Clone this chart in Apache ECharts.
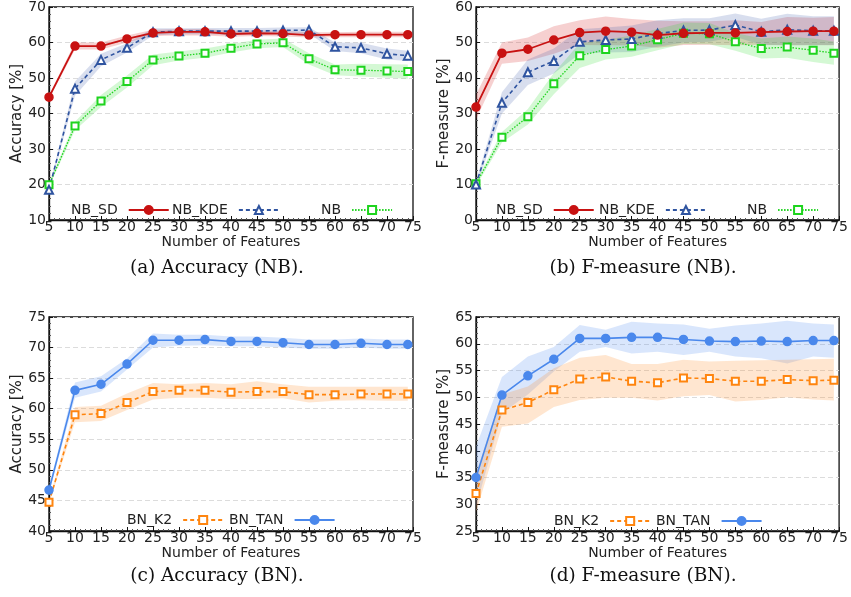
<!DOCTYPE html>
<html>
<head>
<meta charset="utf-8">
<script src="https://cdn.jsdelivr.net/npm/echarts@6/dist/echarts.min.js"></script>
<style>
html,body{margin:0;padding:0;background:#fff;}
#chart{width:851px;height:597px;}
</style>
</head>
<body>
<div id="chart"></div>
<script>
// ---------- data ----------
const features = [5,10,15,20,25,30,35,40,45,50,55,60,65,70,74];

// (a) Accuracy (NB)
const accNbSd    = [44.6,59.0,59.0,61.0,62.7,63.0,63.0,62.4,62.6,62.5,62.1,62.2,62.2,62.2,62.2];
const accNbSdLo  = [44.0,58.0,58.0,60.0,61.8,62.0,62.0,61.6,61.8,61.7,61.4,61.5,61.5,61.5,61.5];
const accNbSdHi  = [45.2,60.0,60.0,62.0,63.6,63.8,63.8,63.3,63.4,63.3,62.9,62.9,63.0,63.0,63.0];
const accNbKde   = [18.5,47.0,55.1,58.5,62.9,63.2,63.2,63.2,63.2,63.4,63.5,58.8,58.5,56.8,56.3];
const accNbKdeLo = [18.0,45.0,53.3,57.2,62.0,62.3,62.3,62.2,62.3,62.5,62.5,57.6,57.0,55.2,54.8];
const accNbKdeHi = [19.0,49.0,56.8,59.8,64.0,64.0,64.1,64.1,64.1,64.2,64.3,60.0,59.9,58.3,57.7];
const accNb      = [19.9,36.5,43.5,49.0,55.1,56.2,57.0,58.4,59.6,59.9,55.4,52.3,52.2,52.0,51.8];
const accNbLo    = [19.3,35.3,41.8,47.3,53.6,54.9,55.7,57.2,58.4,58.7,53.8,50.8,50.4,50.1,49.8];
const accNbHi    = [20.5,37.7,45.2,50.7,56.6,57.5,58.3,59.6,60.8,61.1,57.0,53.8,54.0,53.9,53.8];

// (b) F-measure (NB)
const fNbSd    = [31.8,47.0,48.1,50.7,52.8,53.2,52.9,52.1,52.6,52.7,52.7,52.9,53.1,53.2,53.2];
const fNbSdLo  = [28.3,44.0,44.8,46.8,49.3,49.2,49.2,48.5,49.3,49.4,49.2,49.4,49.2,49.3,49.2];
const fNbSdHi  = [35.3,50.0,51.4,54.6,56.3,57.3,56.6,56.1,56.0,56.0,56.3,55.8,57.2,57.0,57.2];
const fNbKde   = [10.0,33.0,41.6,44.8,50.2,50.7,51.0,52.5,53.4,53.5,54.9,53.0,53.6,53.3,53.3];
const fNbKdeLo = [9.2,30.0,38.0,41.3,46.8,47.2,47.3,48.8,50.0,50.2,51.6,49.3,49.2,49.2,49.3];
const fNbKdeHi = [10.8,36.0,45.2,48.3,53.7,54.2,54.8,56.3,56.8,56.8,58.2,56.7,58.1,57.4,57.4];
const fNb      = [10.2,23.3,29.1,38.4,46.3,48.0,49.0,50.8,52.6,52.5,50.2,48.3,48.7,47.8,47.0];
const fNbLo    = [9.5,21.8,26.9,35.4,42.8,45.2,46.0,47.8,49.6,49.5,47.7,45.5,45.7,44.5,43.7];
const fNbHi    = [10.9,24.8,31.3,41.4,49.8,50.8,52.0,53.8,55.6,55.5,52.7,51.1,51.7,51.1,50.3];

// (c) Accuracy (BN)
const accTan   = [46.7,63.0,64.0,67.3,71.2,71.2,71.3,71.0,71.0,70.8,70.5,70.5,70.7,70.5,70.5];
const accTanLo = [46.2,61.8,62.8,66.4,70.0,70.3,70.4,70.2,70.2,70.0,69.8,69.8,70.0,69.8,69.8];
const accTanHi = [47.2,64.3,65.3,68.2,72.3,72.1,72.1,71.8,71.8,71.6,71.3,71.3,71.5,71.3,71.3];
const accK2    = [44.7,59.0,59.2,61.0,62.8,63.0,63.0,62.7,62.8,62.8,62.3,62.3,62.4,62.4,62.4];
const accK2Lo  = [44.4,57.8,58.0,59.8,61.5,61.8,61.8,61.6,61.6,61.7,61.0,61.3,61.4,61.3,61.3];
const accK2Hi  = [45.0,60.3,60.5,62.5,64.2,64.0,64.2,64.0,64.5,64.0,63.6,63.6,63.6,63.6,63.6];

// (d) F-measure (BN)
const fTan   = [35.0,50.4,54.0,57.1,61.0,61.0,61.2,61.2,60.8,60.5,60.4,60.5,60.4,60.6,60.6];
const fTanLo = [29.5,47.0,50.5,54.8,58.5,59.4,58.2,58.5,57.9,58.5,57.6,57.3,56.3,57.6,57.4];
const fTanHi = [40.8,53.8,57.6,59.4,63.5,62.6,64.1,63.8,63.6,62.8,63.4,63.8,64.3,63.8,63.6];
const fK2    = [32.0,47.6,49.0,51.4,53.4,53.8,53.0,52.7,53.6,53.5,53.0,53.0,53.3,53.1,53.2];
const fK2Lo  = [28.5,44.5,45.1,48.2,49.5,49.9,49.9,49.4,50.2,50.4,49.2,49.5,50.0,49.6,49.4];
const fK2Hi  = [35.8,50.5,52.0,55.4,57.4,57.9,56.2,56.2,57.0,56.7,56.8,56.9,57.0,57.1,57.2];

// axis settings
const yMins = [10, 0, 40, 25];
const yMaxs = [70, 60, 75, 65];
const yIntervals = [10, 10, 5, 5];
const yNames = ['Accuracy [%]', 'F-measure [%]', 'Accuracy [%]', 'F-measure [%]'];
const xName = 'Number of Features';
const captions = ['(a) Accuracy (NB).', '(b) F-measure (NB).', '(c) Accuracy (BN).', '(d) F-measure (BN).'];

// ---------- styles ----------
const FONT = 'DejaVu Sans';
const C_RED = '#c81212', C_DBLUE = '#2f54a0', C_GREEN = '#1ed41e', C_LBLUE = '#4a88ec', C_ORANGE = '#ff850f';
const B_RED = 'rgba(214,40,40,0.22)', B_DBLUE = 'rgba(60,90,170,0.2)', B_GREEN = 'rgba(40,220,40,0.2)',
      B_LBLUE = 'rgba(80,140,240,0.22)', B_ORANGE = 'rgba(255,140,40,0.22)';

const grids = [
  {left: 49, top: 7, width: 364, height: 213},
  {left: 476, top: 7, width: 364, height: 213},
  {left: 49, top: 317, width: 364, height: 214},
  {left: 476, top: 317, width: 364, height: 214}
].map(g => Object.assign({show: true, borderColor: '#111', borderWidth: 1.3, backgroundColor: 'transparent'}, g));

const pairs = (arr) => features.map((x, i) => [x, arr[i]]);

const xAxes = grids.map((g, i) => ({
  type: 'value', gridIndex: i, min: 5, max: 75, interval: 5,
  axisLine: {onZero: false, lineStyle: {color: '#111', width: 1.3}},
  axisTick: {inside: true, length: 4, lineStyle: {color: '#111'}},
  minorTick: {show: true, splitNumber: 5, length: 2, lineStyle: {color: '#555'}},
  axisLabel: {margin: 0, fontSize: 14, color: '#222', fontFamily: FONT},
  splitLine: {show: false},
  name: xName, nameLocation: 'middle', nameGap: 13,
  nameTextStyle: {fontSize: 14, color: '#222', fontFamily: FONT}
}));

const yAxes = grids.map((g, i) => ({
  type: 'value', gridIndex: i, min: yMins[i], max: yMaxs[i], interval: yIntervals[i],
  axisLine: {onZero: false, lineStyle: {color: '#111', width: 1.3}},
  axisTick: {inside: true, length: 4, lineStyle: {color: '#111'}},
  minorTick: {show: true, splitNumber: 5, length: 2, lineStyle: {color: '#555'}},
  axisLabel: {margin: 3, fontSize: 14, color: '#222', fontFamily: FONT},
  splitLine: {show: true, lineStyle: {color: '#dcdcdc', type: [5, 3], width: 1}},
  name: yNames[i], nameLocation: 'middle', nameGap: (i % 2 === 0) ? 23 : 20,
  nameTextStyle: {fontSize: 15, color: '#222', fontFamily: FONT}
}));

const series = [];
function band(idx, lo, hi, color) {
  series.push({
    type: 'custom', name: 'band', xAxisIndex: idx, yAxisIndex: idx, silent: true, z: 1,
    data: features.map((x, i) => [x, lo[i], hi[i]]),
    encode: {x: 0, y: [1, 2]},
    renderItem: function (params, api) {
      if (params.dataIndex !== 0) return null;
      const pts = [];
      for (let i = 0; i < features.length; i++) pts.push(api.coord([features[i], hi[i]]));
      for (let i = features.length - 1; i >= 0; i--) pts.push(api.coord([features[i], lo[i]]));
      return {type: 'polygon', shape: {points: pts}, style: {fill: color, stroke: null}};
    }
  });
}
function line(idx, name, data, color, symbol, size, ltype, width) {
  series.push({
    type: 'line', name: name, xAxisIndex: idx, yAxisIndex: idx, data: pairs(data),
    symbol: symbol, symbolSize: size, showSymbol: true,
    itemStyle: {color: color, borderColor: color, borderWidth: 1.5},
    lineStyle: {color: color, width: width, type: ltype}, z: 3
  });
}

// (a)
band(0, accNbSdLo, accNbSdHi, B_RED);
band(0, accNbKdeLo, accNbKdeHi, B_DBLUE);
band(0, accNbLo, accNbHi, B_GREEN);
line(0, 'NB', accNb, C_GREEN, 'emptyRect', 7, [1.5, 1.5], 1.3);
line(0, 'NB_KDE', accNbKde, C_DBLUE, 'emptyTriangle', 8, [4, 3], 1.6);
line(0, 'NB_SD', accNbSd, C_RED, 'circle', 8, 'solid', 1.8);
// (b)
band(1, fNbSdLo, fNbSdHi, B_RED);
band(1, fNbKdeLo, fNbKdeHi, B_DBLUE);
band(1, fNbLo, fNbHi, B_GREEN);
line(1, 'NB', fNb, C_GREEN, 'emptyRect', 7, [1.5, 1.5], 1.3);
line(1, 'NB_KDE', fNbKde, C_DBLUE, 'emptyTriangle', 8, [4, 3], 1.6);
line(1, 'NB_SD', fNbSd, C_RED, 'circle', 8, 'solid', 1.8);
// (c)
band(2, accTanLo, accTanHi, B_LBLUE);
band(2, accK2Lo, accK2Hi, B_ORANGE);
line(2, 'BN_K2', accK2, C_ORANGE, 'emptyRect', 7, [4, 3], 1.6);
line(2, 'BN_TAN', accTan, C_LBLUE, 'circle', 8, 'solid', 1.6);
// (d)
band(3, fTanLo, fTanHi, B_LBLUE);
band(3, fK2Lo, fK2Hi, B_ORANGE);
line(3, 'BN_K2', fK2, C_ORANGE, 'emptyRect', 7, [4, 3], 1.6);
line(3, 'BN_TAN', fTan, C_LBLUE, 'circle', 8, 'solid', 1.6);

function leg(name, left, cy) {
  return {
    data: [name], left: left, top: cy - 8, align: 'right', padding: 0,
    itemWidth: 40, itemHeight: 10, itemGap: 0, selectedMode: false,
    textStyle: {fontSize: 14, color: '#222', fontFamily: FONT, padding: [0, 6, 0, 0]}
  };
}
const legends = [
  leg('NB_SD', 71, 211), leg('NB_KDE', 172, 211), leg('NB', 321, 211),
  leg('NB_SD', 496, 211), leg('NB_KDE', 599, 211), leg('NB', 747, 211),
  leg('BN_K2', 127, 521), leg('BN_TAN', 229, 521),
  leg('BN_K2', 554, 522), leg('BN_TAN', 656, 522)
];

const capPos = [[217, 268], [643, 268], [217, 576], [643, 576]];
const graphics = captions.map((t, i) => ({
  type: 'text', x: capPos[i][0], y: capPos[i][1],
  style: {text: t, fontSize: 18.5, fontFamily: 'DejaVu Serif', fill: '#111', textAlign: 'center', textVerticalAlign: 'middle'}
}));

const chart = echarts.init(document.getElementById('chart'), null, {renderer: 'canvas'});
chart.setOption({
  animation: false,
  backgroundColor: '#fff',
  grid: grids, xAxis: xAxes, yAxis: yAxes,
  legend: legends, series: series, graphic: graphics
});
</script>
</body>
</html>
